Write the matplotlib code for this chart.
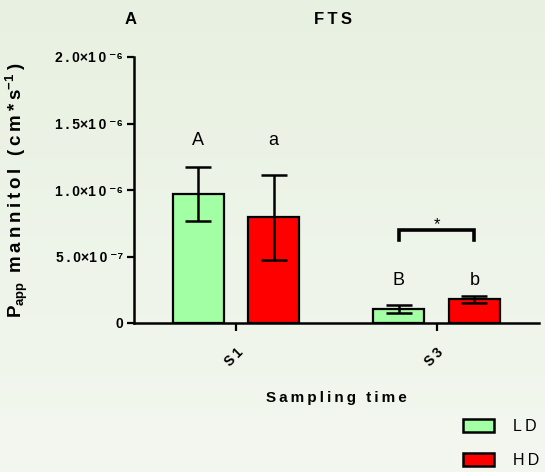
import numpy as np
import matplotlib
matplotlib.use('Agg')
import matplotlib.pyplot as plt
from matplotlib.patches import Patch

plt.rcParams['font.family'] = ['Liberation Sans', 'DejaVu Sans']
plt.rcParams['mathtext.fontset'] = 'custom'
plt.rcParams['mathtext.rm'] = 'Liberation Sans:bold'
plt.rcParams['mathtext.bf'] = 'Liberation Sans:bold'
plt.rcParams['mathtext.it'] = 'Liberation Sans:bold'

# data
times = ['S1', 'S3']
groups = ['LD', 'HD']
ld_mean = [0.971e-6, 0.104e-6]
ld_err = [0.203e-6, 0.028e-6]
hd_mean = [0.794e-6, 0.178e-6]
hd_err = [0.320e-6, 0.026e-6]
ld_letters = ['A', 'B']
hd_letters = ['a', 'b']
letter_y = [1.31e-6, 0.255e-6]
yticks = [0, 0.5e-6, 1.0e-6, 1.5e-6, 2.0e-6]

TS = '\u2009'
SUP = str.maketrans('-0123456789', '⁻⁰¹²³⁴⁵⁶⁷⁸⁹')


def spaced(s):
    return TS.join(s)


def fmt(v):
    if v == 0:
        return '0'
    e = int(np.floor(np.log10(v)))
    m = v / 10 ** e
    return spaced('%.1f' % m) + '\u00d7' + spaced('10') + TS + str(e).translate(SUP)


fig = plt.figure(figsize=(5.45, 4.72), dpi=100)
# background gradient
bg = fig.add_axes([0, 0, 1, 1], zorder=-10)
grad = np.linspace(0, 1, 256).reshape(-1, 1)
c_top = np.array([232, 241, 225]) / 255
c_bot = np.array([243, 247, 240]) / 255
img = c_top + (c_bot - c_top) * grad[:, :, None]
bg.imshow(img, aspect='auto', extent=[0, 1, 0, 1])
bg.axis('off')

ax = fig.add_axes([134 / 545, 1 - 323 / 472, 405 / 545, 266 / 472])
ax.patch.set_alpha(0)

x = np.arange(len(times))
w = 0.254
off = 0.188
ax.bar(x - off, ld_mean, w, color='#A3FFA3', edgecolor='black', linewidth=1.6, zorder=2)
ax.bar(x + off, hd_mean, w, color='#FF0000', edgecolor='black', linewidth=1.6, zorder=2)
ax.errorbar(x - off, ld_mean, yerr=ld_err, fmt='none', ecolor='black', elinewidth=1.8,
            capsize=9.4, capthick=1.8, zorder=3)
ax.errorbar(x + off, hd_mean, yerr=hd_err, fmt='none', ecolor='black', elinewidth=1.8,
            capsize=9.4, capthick=1.8, zorder=3)

# letters
for i in range(len(times)):
    ax.text(x[i] - off, letter_y[i], ld_letters[i], ha='center', va='bottom', fontsize=13)
    ax.text(x[i] + off, letter_y[i], hd_letters[i], ha='center', va='bottom', fontsize=13)

# significance bracket at S3
yb = 0.700e-6
ax.plot([x[1] - off, x[1] - off, x[1] + off, x[1] + off],
        [yb - 0.076e-6, yb, yb, yb - 0.076e-6], color='black', lw=2.6,
        solid_joinstyle='miter', zorder=3)
ax.text(x[1], yb - 0.015e-6, '*', ha='center', va='bottom', fontsize=12)

ax.set_xlim(-0.508, 1.51)
ax.set_ylim(0, 2.0e-6)
ax.set_yticks(yticks)
ax.set_yticklabels([fmt(v) for v in yticks], fontsize=10, fontweight='bold')
ax.set_xticks(x)
ax.set_xticklabels([spaced(t) for t in times], rotation=45, ha='right', va='top',
                   rotation_mode='anchor', fontsize=10, fontweight='bold')
for sp in ['top', 'right']:
    ax.spines[sp].set_visible(False)
for sp in ['left', 'bottom']:
    ax.spines[sp].set_linewidth(1.8)
ax.tick_params(axis='both', direction='out', width=1.6, length=5)
ax.tick_params(axis='y', pad=3)
ax.tick_params(axis='x', length=6, pad=10)

ax.set_ylabel(r'$\mathrm{P_{app}}$' + spaced(' mannitol (cm*s') + r'$^{-1}$' + TS + ')',
              fontsize=13.5, fontweight='bold')
ax.yaxis.set_label_coords(-0.257, 0.5)
ax.set_xlabel(spaced('Sampling time'), fontsize=11, fontweight='bold', labelpad=16)

fig.text(131 / 545, 1 - 20 / 472, 'A', ha='center', va='center', fontsize=12, fontweight='bold')
fig.text(333 / 545, 1 - 20 / 472, spaced('FTS'), ha='center', va='center', fontsize=12,
         fontweight='bold')

handles = [Patch(facecolor='#A3FFA3', edgecolor='black', linewidth=1.8),
           Patch(facecolor='#FF0000', edgecolor='black', linewidth=1.8)]
fig.legend(handles, [spaced(g) for g in groups], loc='upper left',
           bbox_to_anchor=(452 / 545, 1 - 408 / 472), frameon=False, fontsize=11.5,
           handlelength=1.9, handleheight=0.85, labelspacing=1.2, handletextpad=1.2,
           borderpad=0.2)

fig.savefig('out.png', dpi=100)
